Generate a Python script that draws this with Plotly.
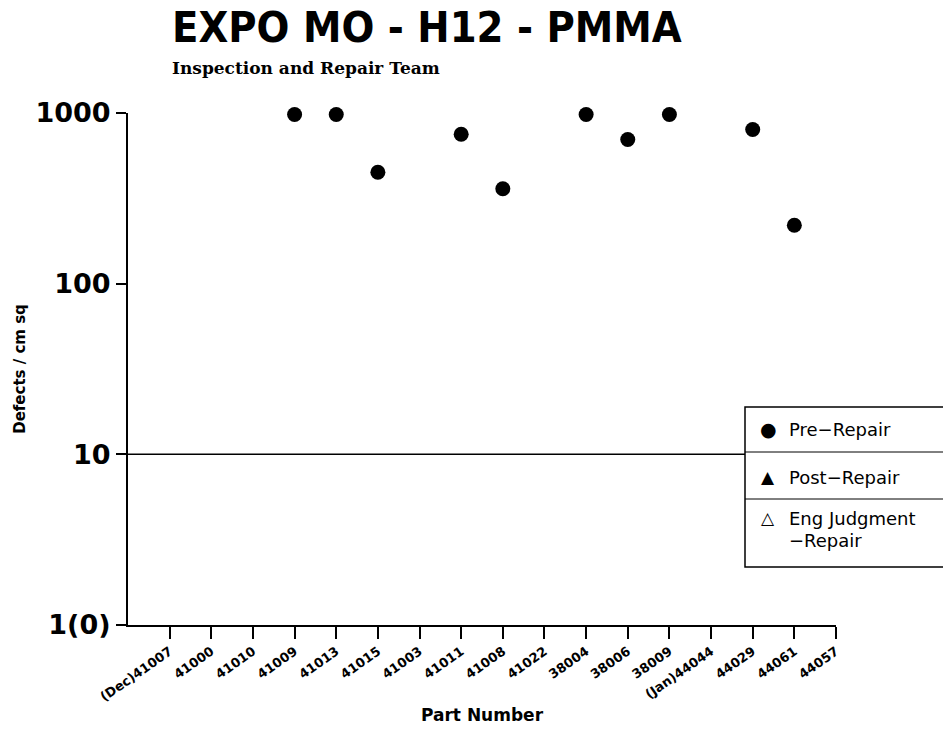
import plotly.graph_objects as go

parts = ["(Dec)41007", "41000", "41010", "41009", "41013", "41015", "41003", "41011",
         "41008", "41022", "38004", "38006", "38009", "(Jan)44044", "44029", "44061", "44057"]
pre_parts = ["41009", "41013", "41015", "41011", "41008", "38004", "38006", "38009", "44029", "44061"]
pre_values = [980, 980, 450, 750, 360, 980, 700, 980, 800, 220]
y_ticks = [1, 10, 100, 1000]
y_tick_text = ["1(0)", "10", "100", "1000"]
ref_value = 10

idx = {p: i for i, p in enumerate(parts)}
pre_x = [idx[p] for p in pre_parts]

L, T, R, B = 128, 113, 836, 625
W, H = 943, 743

def px_x(px):
    return (px - L) / (R - L)

def px_y(py):
    return (B - py) / (B - T)

fig = go.Figure()
fig.add_trace(go.Scatter(x=pre_x, y=pre_values, mode="markers", name="Pre-Repair",
                         marker=dict(symbol="circle", size=15, color="black"),
                         showlegend=False, cliponaxis=False))

# custom legend box
lx0, lx1 = px_x(745), px_x(950)
rows = [px_y(407), px_y(452), px_y(499), px_y(567)]

fig.add_shape(type="line", xref="paper", yref="y", x0=0, x1=lx0, y0=ref_value, y1=ref_value,
              line=dict(color="black", width=1.5))
fig.add_shape(type="rect", xref="paper", yref="paper", x0=lx0, x1=lx1, y0=rows[3], y1=rows[0],
              line=dict(color="black", width=1.5))
for r in rows[1:3]:
    fig.add_shape(type="line", xref="paper", yref="paper", x0=lx0, x1=lx1, y0=r, y1=r,
                  line=dict(color="black", width=1))

lfont = dict(family="DejaVu Sans", size=18, color="black")

def ann(px, py, text, font, xanchor="left"):
    fig.add_annotation(xref="paper", yref="paper", x=px_x(px), y=px_y(py), text=text,
                       showarrow=False, xanchor=xanchor, yanchor="middle", font=font)

ann(768, 429, "●", dict(family="DejaVu Sans", size=19, color="black"), "center")
ann(787, 429, "Pre−Repair", lfont)
ann(768, 477, "▲", dict(family="DejaVu Sans", size=17, color="black"), "center")
ann(787, 477, "Post−Repair", lfont)
ann(768, 518, "△", dict(family="DejaVu Sans", size=17, color="black"), "center")
ann(787, 518, "Eng Judgment", lfont)
ann(787, 540, "−Repair", lfont)

# titles
fig.add_annotation(xref="paper", yref="paper", x=px_x(170), y=px_y(27), text="<b>EXPO MO - H12 - PMMA</b>",
                   showarrow=False, xanchor="left", yanchor="middle",
                   font=dict(family="DejaVu Sans Condensed, Liberation Sans Narrow, DejaVu Sans", size=43, color="black"))
fig.add_annotation(xref="paper", yref="paper", x=px_x(170), y=px_y(68), text="<b>Inspection and Repair Team</b>",
                   showarrow=False, xanchor="left", yanchor="middle",
                   font=dict(family="DejaVu Serif", size=17, color="black"))

fig.update_layout(
    width=W, height=H,
    margin=dict(l=L, r=W - R, t=T, b=H - B),
    paper_bgcolor="white", plot_bgcolor="white",
    showlegend=False,
    xaxis=dict(range=[-1, 16], tickvals=list(range(len(parts))), ticktext=parts,
               tickangle=-35, ticks="outside", ticklen=12, tickwidth=1.5, tickcolor="black",
               showline=True, linecolor="black", linewidth=2, showgrid=False, zeroline=False,
               tickfont=dict(family="DejaVu Sans", size=13, color="black", weight="bold"),
               title=dict(text="Part Number", font=dict(family="DejaVu Sans", size=17, color="black", weight="bold"),
                          standoff=6)),
    yaxis=dict(type="log", range=[0, 3], tickvals=y_ticks, ticktext=y_tick_text,
               ticks="outside", ticklen=10, tickwidth=1.5, tickcolor="black",
               showline=True, linecolor="black", linewidth=2, showgrid=False, zeroline=False,
               tickfont=dict(family="DejaVu Sans", size=27, color="black", weight="bold"),
               title=dict(text="Defects / cm sq", font=dict(family="DejaVu Sans", size=15, color="black", weight="bold"),
                          standoff=6)),
)

fig.write_html("out.html", config={"displayModeBar": False},
               post_script="document.body.style.margin='0px';")
